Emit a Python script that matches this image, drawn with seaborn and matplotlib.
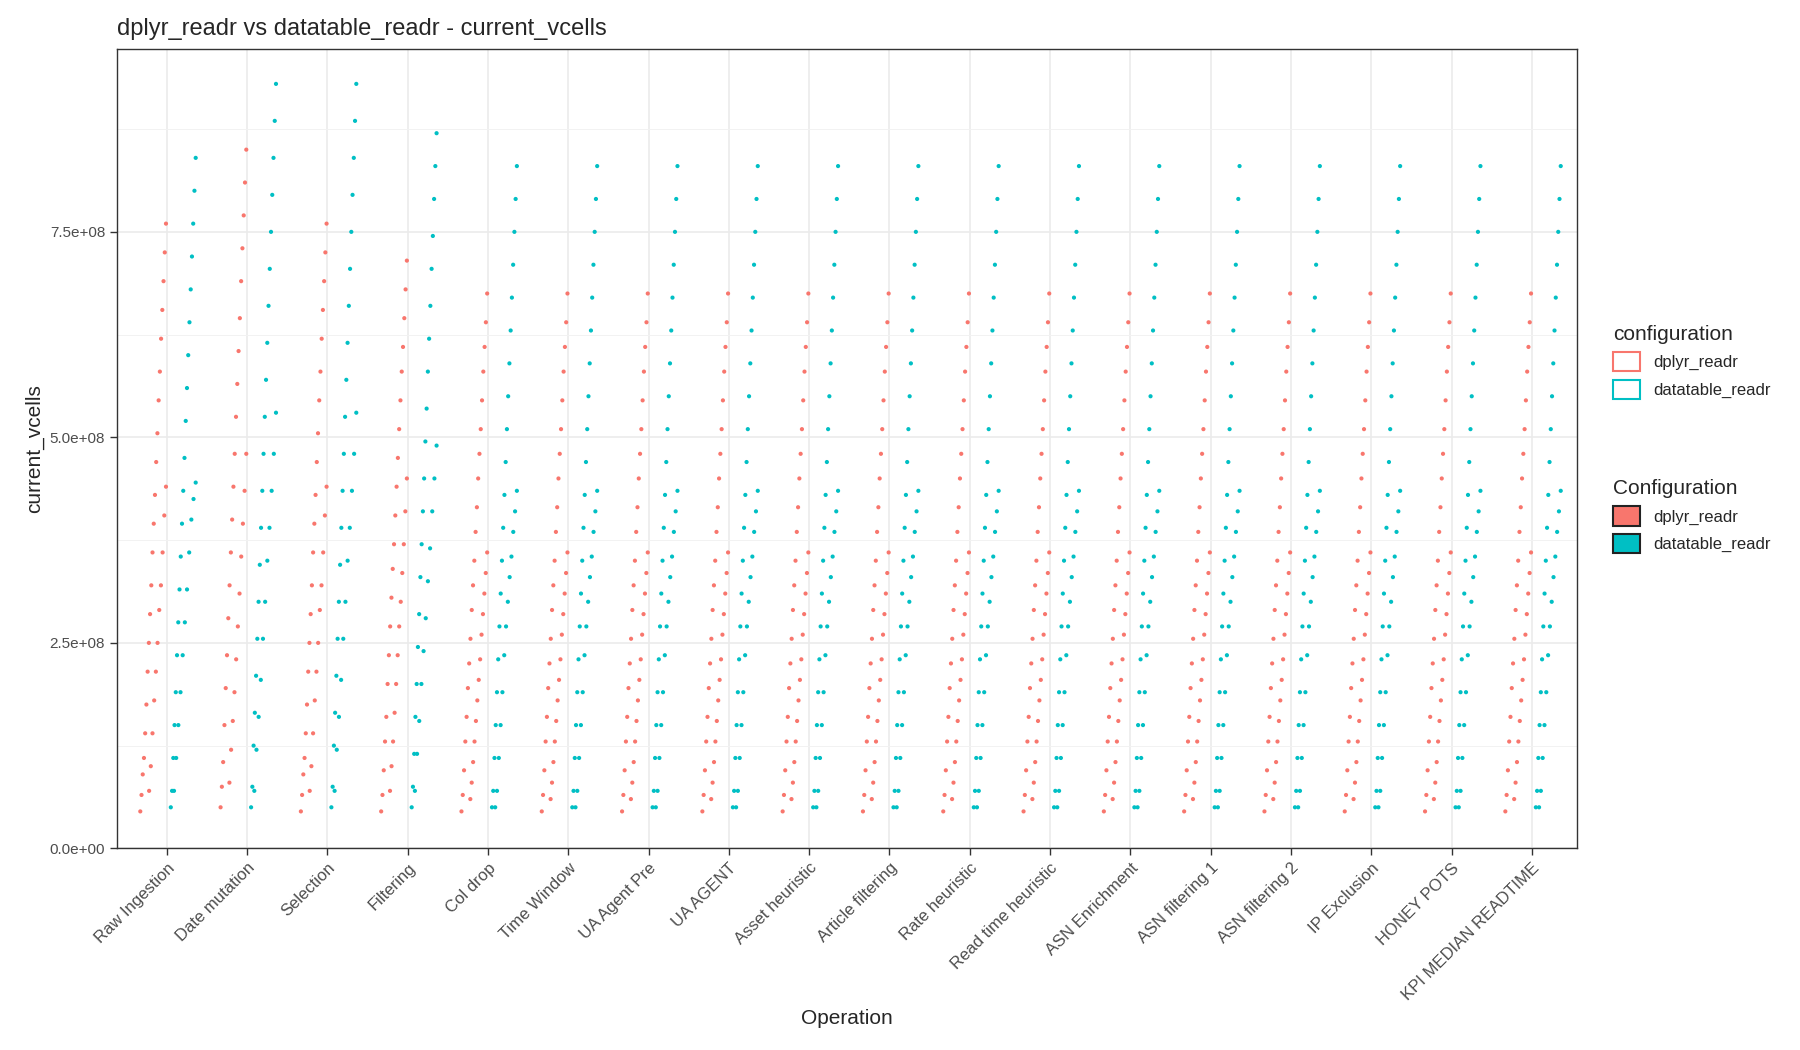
import matplotlib
matplotlib.use("Agg")
import matplotlib.pyplot as plt
import numpy as np
import pandas as pd
import seaborn as sns
from matplotlib.patches import Patch
from matplotlib.lines import Line2D
from matplotlib.ticker import FuncFormatter

operations = [
    "Raw Ingestion", "Date mutation", "Selection", "Filtering", "Col drop",
    "Time Window", "UA Agent Pre", "UA AGENT", "Asset heuristic",
    "Article filtering", "Rate heuristic", "Read time heuristic",
    "ASN Enrichment", "ASN filtering 1", "ASN filtering 2", "IP Exclusion",
    "HONEY POTS", "KPI MEDIAN READTIME",
]
configs = ["dplyr_readr", "datatable_readr"]
RED = "#F8766D"
CYAN = "#00BFC4"

# values in units of 1e8, two runs ("main" and "second") per group
std_red_main = [0.45, 0.65, 0.95, 1.3, 1.6, 1.95, 2.25, 2.55, 2.9, 3.2, 3.5, 3.85,
                4.15, 4.5, 4.8, 5.1, 5.45, 5.8, 6.1, 6.4, 6.75]
std_red_2 = [0.6, 0.8, 1.05, 1.3, 1.55, 1.8, 2.05, 2.3, 2.6, 2.85, 3.1, 3.35, 3.6]
std_cyan_main = [0.5, 0.7, 1.1, 1.5, 1.9, 2.3, 2.7, 3.1, 3.5, 3.9, 4.3, 4.7, 5.1,
                 5.5, 5.9, 6.3, 6.7, 7.1, 7.5, 7.9, 8.3]
std_cyan_2 = [0.5, 0.7, 1.1, 1.5, 1.9, 2.35, 2.7, 3.0, 3.3, 3.55, 3.85, 4.1, 4.35]

raw_red_main = [0.45, 0.65, 0.9, 1.1, 1.4, 1.75, 2.15, 2.5, 2.85, 3.2, 3.6, 3.95,
                4.3, 4.7, 5.05, 5.45, 5.8, 6.2, 6.55, 6.9, 7.25, 7.6]
raw_red_2 = [0.7, 1.0, 1.4, 1.8, 2.15, 2.5, 2.9, 3.2, 3.6, 4.05, 4.4]
raw_cyan_main = [0.5, 0.7, 1.1, 1.5, 1.9, 2.35, 2.75, 3.15, 3.55, 3.95, 4.35, 4.75,
                 5.2, 5.6, 6.0, 6.4, 6.8, 7.2, 7.6, 8.0, 8.4]
raw_cyan_2 = [0.7, 1.1, 1.5, 1.9, 2.35, 2.75, 3.15, 3.6, 4.0, 4.25, 4.45]

date_red_main = [0.5, 0.75, 1.05, 1.5, 1.95, 2.35, 2.8, 3.2, 3.6, 4.0, 4.4, 4.8,
                 5.25, 5.65, 6.05, 6.45, 6.9, 7.3, 7.7, 8.1, 8.5]
date_red_2 = [0.8, 1.2, 1.55, 1.9, 2.3, 2.7, 3.1, 3.55, 3.95, 4.35, 4.8]
date_cyan_main = [0.5, 0.75, 1.25, 1.65, 2.1, 2.55, 3.0, 3.45, 3.9, 4.35, 4.8, 5.25,
                  5.7, 6.15, 6.6, 7.05, 7.5, 7.95, 8.4, 8.85, 9.3]
date_cyan_2 = [0.7, 1.2, 1.6, 2.05, 2.55, 3.0, 3.5, 3.9, 4.35, 4.8, 5.3]

filt_red_main = [0.45, 0.65, 0.95, 1.3, 1.6, 2.0, 2.35, 2.7, 3.05, 3.4, 3.7, 4.05,
                 4.4, 4.75, 5.1, 5.45, 5.8, 6.1, 6.45, 6.8, 7.15]
filt_red_2 = [0.7, 1.0, 1.3, 1.65, 2.0, 2.35, 2.7, 3.0, 3.35, 3.7, 4.1, 4.5]
filt_cyan_main = [0.5, 0.75, 1.15, 1.6, 2.0, 2.45, 2.85, 3.3, 3.7, 4.1, 4.5, 4.95,
                  5.35, 5.8, 6.2, 6.6, 7.05, 7.45, 7.9, 8.3, 8.7]
filt_cyan_2 = [0.7, 1.15, 1.55, 2.0, 2.4, 2.8, 3.25, 3.65, 4.1, 4.5, 4.9]

profiles = {
    "Raw Ingestion": (raw_red_main, raw_red_2, raw_cyan_main, raw_cyan_2),
    "Date mutation": (date_red_main, date_red_2, date_cyan_main, date_cyan_2),
    "Selection": (raw_red_main, raw_red_2, date_cyan_main, date_cyan_2),
    "Filtering": (filt_red_main, filt_red_2, filt_cyan_main, filt_cyan_2),
}
std = (std_red_main, std_red_2, std_cyan_main, std_cyan_2)

# horizontal spread of each run (bottom -> top), relative to the category
spread = [(-0.33, -0.01), (-0.22, -0.01), (0.05, 0.36), (0.09, 0.36)]

rows = []
for i, op in enumerate(operations):
    runs = profiles.get(op, std)
    for k, vals in enumerate(runs):
        lo, hi = spread[k]
        offs = np.linspace(lo, hi, len(vals))
        for v, o in zip(vals, offs):
            rows.append({"Operation": op, "configuration": configs[k // 2],
                         "x": i + o, "current_vcells": v * 1e8})
df = pd.DataFrame(rows)

sns.set_theme(style="whitegrid")
plt.rcParams["font.family"] = ["Liberation Sans", "DejaVu Sans"]
fig, ax = plt.subplots(figsize=(18, 10.5), dpi=100)
fig.subplots_adjust(left=0.065, right=0.876, top=0.953, bottom=0.192)

sns.scatterplot(data=df, x="x", y="current_vcells", hue="configuration",
                palette={"dplyr_readr": RED, "datatable_readr": CYAN},
                s=9, linewidth=0, ax=ax, legend=False)

ax.set_xlim(-0.62, len(operations) - 1 + 0.56)
ax.set_ylim(0, 9.72e8)
ax.set_xticks(range(len(operations)))
ax.set_xticklabels(operations, rotation=45, ha="right", rotation_mode="anchor",
                   fontsize=12, color="#4d4d4d")
ax.set_yticks([0, 2.5e8, 5e8, 7.5e8])
ax.set_yticks([1.25e8, 3.75e8, 6.25e8, 8.75e8], minor=True)
ax.yaxis.set_major_formatter(FuncFormatter(lambda v, p: f"{v:.1e}"))
ax.tick_params(axis="y", labelsize=11, colors="#4d4d4d")
ax.tick_params(axis="both", which="major", length=5, width=1, color="#333333",
               direction="out", left=True, bottom=True)
ax.grid(which="major", color="#ebebeb", linewidth=1.2)
ax.grid(which="minor", axis="y", color="#f2f2f2", linewidth=0.7)
ax.set_axisbelow(True)
for s in ax.spines.values():
    s.set_color("#333333")
    s.set_linewidth(1)
ax.set_xlabel("Operation", fontsize=15)
ax.set_ylabel("current_vcells", fontsize=15)
ax.set_title("dplyr_readr vs datatable_readr - current_vcells", loc="left",
             fontsize=17, pad=10)

h1 = [Patch(facecolor="white", edgecolor=c, linewidth=1.5) for c in (RED, CYAN)]
h2 = [Patch(facecolor=c, edgecolor="#222222", linewidth=1.5) for c in (RED, CYAN)]
leg1 = fig.legend(h1, configs, title="configuration", loc="upper left",
                  bbox_to_anchor=(0.888, 0.705), frameon=False, fontsize=12,
                  title_fontsize=15, handlelength=1.6, handleheight=1.4)
leg1._legend_box.align = "left"
leg2 = fig.legend(h2, configs, title="Configuration", loc="upper left",
                  bbox_to_anchor=(0.888, 0.558), frameon=False, fontsize=12,
                  title_fontsize=15, handlelength=1.6, handleheight=1.4)
leg2._legend_box.align = "left"

fig.savefig("out.png", dpi=100, facecolor="white")
